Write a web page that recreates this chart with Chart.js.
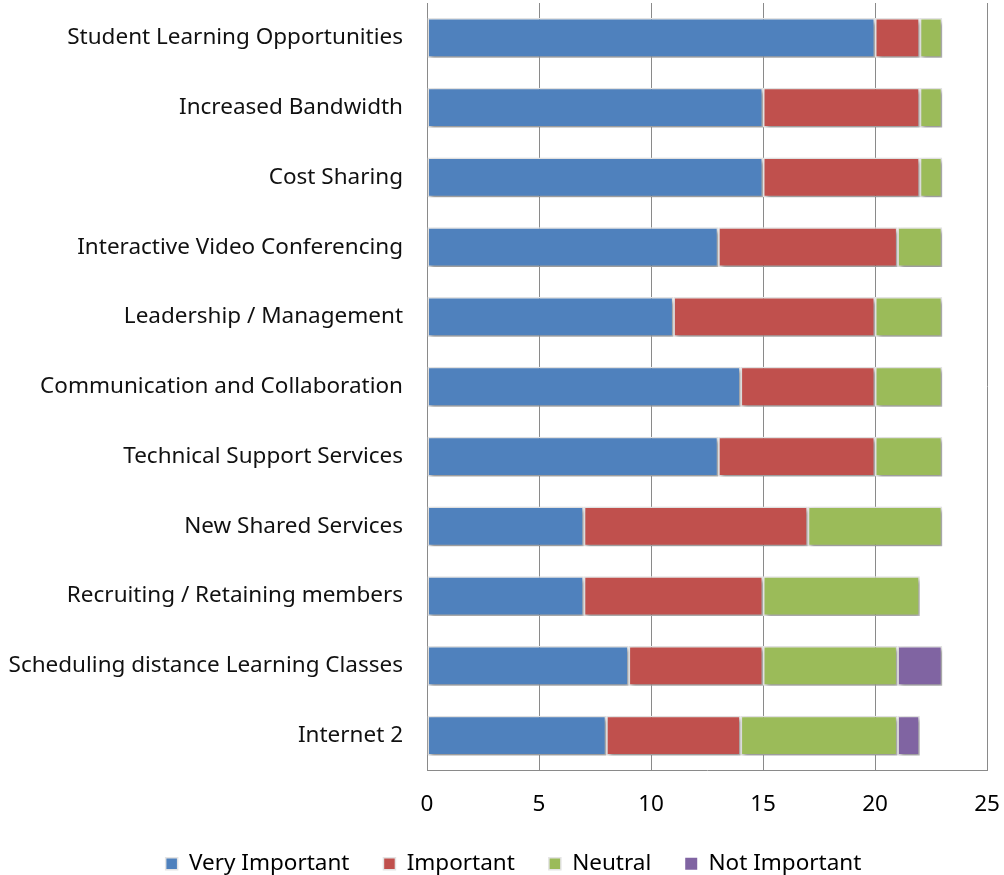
<!DOCTYPE html>
<html>
<head>
<meta charset="utf-8">
<script src="https://cdn.jsdelivr.net/npm/chart.js@4"></script>
<style>
  html, body { margin: 0; padding: 0; background: #fff; }
  #wrap { width: 1004px; height: 875px; }
</style>
</head>
<body>
<div id="wrap"><canvas id="chart"></canvas></div>
<script>
const categories = [
  'Student Learning Opportunities',
  'Increased Bandwidth',
  'Cost Sharing',
  'Interactive Video Conferencing',
  'Leadership / Management',
  'Communication and Collaboration',
  'Technical Support Services',
  'New Shared Services',
  'Recruiting / Retaining members',
  'Scheduling distance Learning Classes',
  'Internet 2'
];
const veryImportant = [20, 15, 15, 13, 11, 14, 13, 7, 7, 9, 8];
const important     = [2, 7, 7, 8, 9, 6, 7, 10, 8, 6, 6];
const neutral       = [1, 1, 1, 2, 3, 3, 3, 6, 7, 6, 7];
const notImportant  = [0, 0, 0, 0, 0, 0, 0, 0, 0, 2, 1];

const fontFamily = "'Noto Sans', sans-serif";
const fontSize = 22.5;

// soft drop shadow under the bars, like the office chart
const barShadow = {
  id: 'barShadow',
  beforeDatasetsDraw(chart) {
    const c = chart.ctx;
    c.save();
    c.shadowColor = 'rgba(0,0,0,0.35)';
    c.shadowBlur = 4;
    c.shadowOffsetX = 2;
    c.shadowOffsetY = 3;
  },
  afterDatasetsDraw(chart) {
    chart.ctx.restore();
  }
};

// the legend sits a bit right of the page centre in the original
const legendShift = {
  id: 'legendShift',
  afterLayout(chart) {
    chart.legend.left += 20;
    chart.legend.right += 20;
  }
};

function makeSet(label, data, color) {
  return {
    label: label,
    data: data,
    backgroundColor: color,
    borderColor: '#e4e4e4',
    borderWidth: ctx => ctx.raw ? 1.5 : 0,
    borderSkipped: false,
    barPercentage: 0.57,
    categoryPercentage: 1.0
  };
}

new Chart(document.getElementById('chart'), {
  type: 'bar',
  data: {
    labels: categories,
    datasets: [
      makeSet('Very Important', veryImportant, '#4F81BD'),
      makeSet('Important', important, '#C0504D'),
      makeSet('Neutral', neutral, '#9BBB59'),
      makeSet('Not Important', notImportant, '#8064A2')
    ]
  },
  options: {
    indexAxis: 'y',
    responsive: true,
    maintainAspectRatio: false,
    animation: false,
    layout: { padding: { top: 3, right: 17, left: 0, bottom: -10 } },
    scales: {
      x: {
        stacked: true,
        min: 0,
        max: 25,
        afterFit: s => { s.paddingLeft = 0; s.paddingRight = 0; s.height -= 21; },
        ticks: { stepSize: 5, color: '#000', padding: 21, font: { family: fontFamily, size: fontSize } },
        grid: { color: '#8a8a8a', lineWidth: 1, drawTicks: false },
        border: { color: '#8a8a8a', width: 1 }
      },
      y: {
        stacked: true,
        afterFit: s => { s.width = 427; s.paddingTop = 0; s.paddingBottom = 0; },
        ticks: { color: '#111', padding: 24, font: { family: fontFamily, size: fontSize } },
        grid: { display: false, drawTicks: false },
        border: { color: '#8a8a8a', width: 1 }
      }
    },
    plugins: {
      legend: {
        position: 'bottom',
        labels: {
          boxWidth: 12,
          boxHeight: 12,
          padding: 34,
          color: '#000',
          font: { family: fontFamily, size: fontSize }
        }
      },
      tooltip: { enabled: false }
    }
  },
  plugins: [barShadow, legendShift]
});
</script>
</body>
</html>
